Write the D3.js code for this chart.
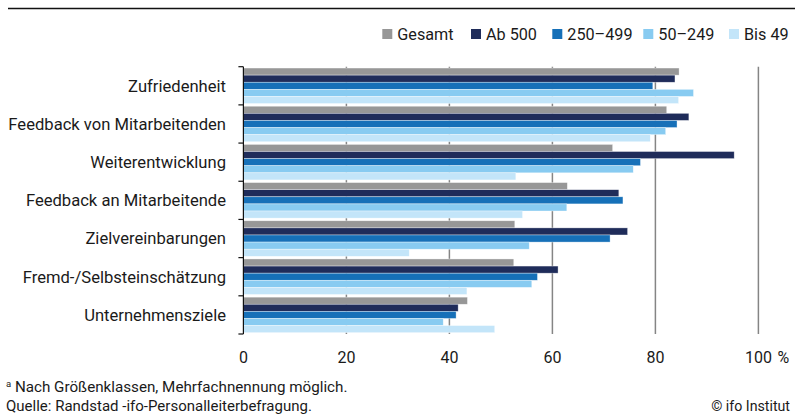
<!DOCTYPE html>
<html>
<head>
<meta charset="UTF-8">
<title>Chart</title>
<script src="https://d3js.org/d3.v7.min.js"></script>
<style>
  body { margin: 0; background: #fff; }
  svg text { font-family: Roboto, "Noto Sans", sans-serif; fill: #1a1a1a; }
</style>
</head>
<body>
<div id="chart"></div>
<script>
(function(d3) {

    var categories = ['Zufriedenheit', 'Feedback von Mitarbeitenden', 'Weiterentwicklung',
        'Feedback an Mitarbeitende', 'Zielvereinbarungen', 'Fremd-/Selbsteinschätzung', 'Unternehmensziele'];
    var seriesNames = ['Gesamt', 'Ab 500', '250\u2013499', '50\u2013249', 'Bis 49'];
    var gesamt  = [84.6, 82.2, 71.7, 62.9, 52.7, 52.5, 43.5];
    var ab500   = [83.8, 86.5, 95.3, 72.9, 74.6, 61.1, 41.7];
    var s250    = [79.5, 84.2, 77.1, 73.7, 71.2, 57.1, 41.3];
    var s50     = [87.4, 82.0, 75.7, 62.8, 55.5, 56.0, 38.8];
    var bis49   = [84.5, 79.0, 52.9, 54.2, 32.2, 43.4, 48.8];
    var xTicks  = [0, 20, 40, 60, 80, 100];

    var seriesValues = [gesamt, ab500, s250, s50, bis49];
    var colors = ['#979797', '#1f2c5a', '#1670b8', '#88cbf1', '#c3e5f9'];

    var width = 795, height = 417;
    var top = 66.7, bottom = 334, left = 243.4, right = 758.4;

    var svg = d3.select('#chart').append('svg')
        .attr('width', width)
        .attr('height', height);

    // top rule
    svg.append('line')
        .attr('x1', 8).attr('x2', 795).attr('y1', 8.5).attr('y2', 8.5)
        .attr('stroke', '#111').attr('stroke-width', 1.5);

    var x = d3.scaleLinear().domain([0, 100]).range([left, right]);
    var y0 = d3.scaleBand().domain(categories).range([top, bottom])
        .paddingInner(0.07).paddingOuter(0.035);
    var y1 = d3.scaleBand().domain(seriesNames).range([0, y0.bandwidth()]);

    // gridlines
    svg.append('g').selectAll('line')
        .data(xTicks.slice(1))
        .enter().append('line')
        .attr('x1', function(d) { return x(d); })
        .attr('x2', function(d) { return x(d); })
        .attr('y1', top).attr('y2', bottom)
        .attr('stroke', '#858585').attr('stroke-width', 1.5);

    // bars
    var rows = categories.map(function(c, i) {
        return { cat: c, vals: seriesNames.map(function(s, j) { return { s: s, j: j, v: seriesValues[j][i] }; }) };
    });

    var groups = svg.append('g').selectAll('g')
        .data(rows)
        .enter().append('g')
        .attr('transform', function(d) { return 'translate(0,' + y0(d.cat) + ')'; });

    groups.selectAll('rect')
        .data(function(d) { return d.vals; })
        .enter().append('rect')
        .attr('x', x(0))
        .attr('y', function(d) { return y1(d.s); })
        .attr('width', function(d) { return x(d.v) - x(0); })
        .attr('height', y1.bandwidth())
        .attr('fill', function(d) { return colors[d.j]; })
        .attr('stroke', '#fff').attr('stroke-opacity', 0.6).attr('stroke-width', 0.6);

    // left axis line with ticks between categories
    var half = y0.step() * y0.paddingInner() / 2;
    var bounds = categories.map(function(c) { return y0(c) - half; });
    bounds.push(y0(categories[categories.length - 1]) + y0.bandwidth() + half);

    svg.append('line')
        .attr('x1', x(0)).attr('x2', x(0)).attr('y1', top).attr('y2', bottom)
        .attr('stroke', '#111').attr('stroke-width', 1.2);
    svg.append('g').selectAll('line')
        .data(bounds)
        .enter().append('line')
        .attr('x1', x(0) - 5).attr('x2', x(0))
        .attr('y1', function(d) { return d; }).attr('y2', function(d) { return d; })
        .attr('stroke', '#111').attr('stroke-width', 1.2);

    // category labels
    svg.append('g').selectAll('text')
        .data(categories)
        .enter().append('text')
        .attr('x', 226)
        .attr('y', function(d) { return y0(d) + y0.bandwidth() / 2; })
        .attr('dy', '0.35em')
        .attr('text-anchor', 'end')
        .attr('font-size', 16.6)
        .text(function(d) { return d; });

    // x tick labels
    svg.append('g').selectAll('text')
        .data(xTicks)
        .enter().append('text')
        .attr('x', function(d) { return x(d); })
        .attr('y', 363)
        .attr('text-anchor', 'middle')
        .attr('font-size', 16)
        .text(function(d) { return d; });
    svg.append('text')
        .attr('x', x(100) + 25).attr('y', 363)
        .attr('text-anchor', 'middle')
        .attr('font-size', 16)
        .text('%');

    // legend
    var legendX = [382.3, 471, 552.3, 643.3, 729];
    var legend = svg.append('g').selectAll('g')
        .data(seriesNames)
        .enter().append('g')
        .attr('transform', function(d, i) { return 'translate(' + legendX[i] + ',29)'; });
    legend.append('rect')
        .attr('width', 10).attr('height', 10)
        .attr('fill', function(d, i) { return colors[i]; });
    legend.append('text')
        .attr('x', 15).attr('y', 5).attr('dy', '0.36em')
        .attr('font-size', 16.2)
        .text(function(d) { return d; });

    // footer
    var note = svg.append('text').attr('x', 6).attr('y', 392).attr('font-size', 15.2);
    note.append('tspan').attr('font-size', 9.5).attr('dy', -5).text('a');
    note.append('tspan').attr('dy', 5).text(' Nach Größenklassen, Mehrfachnennung möglich.');
    svg.append('text').attr('x', 6).attr('y', 411).attr('font-size', 15)
        .text('Quelle: Randstad -ifo-Personalleiterbefragung.');
    svg.append('text').attr('x', 790).attr('y', 411).attr('font-size', 14.2)
        .attr('text-anchor', 'end')
        .text('© ifo Institut');

})(window.d3);
</script>
</body>
</html>
